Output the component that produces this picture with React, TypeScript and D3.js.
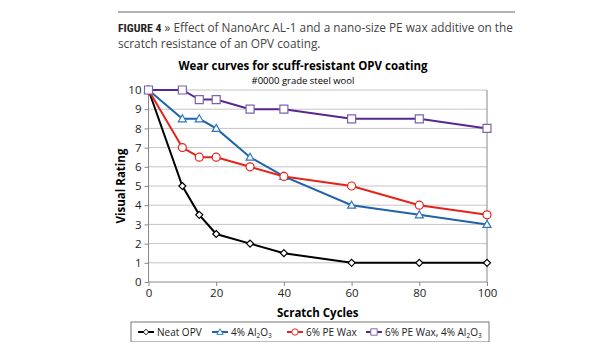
import * as d3 from 'd3';
import { useEffect, useRef } from 'react';

const cycles = [0, 10, 15, 20, 30, 40, 60, 80, 100];
const neatOpv = [10, 5, 3.5, 2.5, 2, 1.5, 1, 1, 1];
const alumina = [10, 8.5, 8.5, 8, 6.5, 5.5, 4, 3.5, 3];
const peWax = [10, 7, 6.5, 6.5, 6, 5.5, 5, 4, 3.5];
const peWaxAlumina = [10, 10, 9.5, 9.5, 9, 9, 8.5, 8.5, 8];
const xTicks = [0, 20, 40, 60, 80, 100];
const yTicks = [0, 1, 2, 3, 4, 5, 6, 7, 8, 9, 10];

const series = [
  { name: 'Neat OPV', values: neatOpv, color: '#000000', marker: '#000000', shape: 'diamond' },
  { name: '4% Al2O3', values: alumina, color: '#1f63a8', marker: '#2f78c0', shape: 'triangle' },
  { name: '6% PE Wax', values: peWax, color: '#e5231b', marker: '#e5231b', shape: 'circle' },
  { name: '6% PE Wax, 4% Al2O3', values: peWaxAlumina, color: '#5a2690', marker: '#7b62b3', shape: 'square' }
];

const W = 615;
const H = 350;
const FONT = '"Open Sans", sans-serif';

function App() {
  const ref = useRef<SVGSVGElement>(null);

  useEffect(() => {
    const svg = d3.select(ref.current);
    svg.selectAll('*').remove();

    const x = d3.scaleLinear().domain([0, 100]).range([148.5, 487]);
    const y = d3.scaleLinear().domain([0, 10]).range([282, 90]);

    svg.append('rect').attr('width', W).attr('height', H).attr('fill', '#fff');

    // caption
    svg.append('line')
      .attr('x1', 118).attr('x2', 515).attr('y1', 12).attr('y2', 12)
      .attr('stroke', '#666').attr('stroke-width', 1);
    const cap = svg.append('text')
      .attr('x', 118).attr('y', 32)
      .attr('font-family', FONT).attr('font-size', 11.8).attr('fill', '#444');
    cap.append('tspan')
      .attr('font-family', '"Liberation Sans Narrow", "Roboto Condensed", sans-serif')
      .attr('font-weight', 'bold').attr('fill', '#222').text('FIGURE 4');
    cap.append('tspan').text(' \u00bb Effect of NanoArc AL-1 and a nano-size PE wax additive on the');
    svg.append('text')
      .attr('x', 118).attr('y', 48)
      .attr('font-family', FONT).attr('font-size', 11.8).attr('fill', '#444')
      .text('scratch resistance of an OPV coating.');

    // title
    svg.append('text')
      .attr('x', 303).attr('y', 70).attr('text-anchor', 'middle')
      .attr('font-family', FONT).attr('font-size', 11.5).attr('font-weight', 'bold').attr('fill', '#000')
      .text('Wear curves for scuff-resistant OPV coating');
    svg.append('text')
      .attr('x', 303).attr('y', 84).attr('text-anchor', 'middle')
      .attr('font-family', FONT).attr('font-size', 9.5).attr('fill', '#000')
      .text('#0000 grade steel wool');

    // grid
    svg.append('g')
      .selectAll('line')
      .data(yTicks.filter((d) => d > 0))
      .enter()
      .append('line')
      .attr('x1', x(0)).attr('x2', x(100))
      .attr('y1', (d) => y(d)).attr('y2', (d) => y(d))
      .attr('stroke', '#c4c4c4').attr('stroke-width', 1);
    svg.append('line')
      .attr('x1', x(100)).attr('x2', x(100)).attr('y1', y(10)).attr('y2', y(0))
      .attr('stroke', '#888');

    // axes
    const yAxis = svg.append('g')
      .attr('transform', `translate(${x(0)},0)`)
      .call(d3.axisLeft(y).tickValues(yTicks).tickSize(4).tickPadding(3));
    const xAxis = svg.append('g')
      .attr('transform', `translate(0,${y(0)})`)
      .call(d3.axisBottom(x).tickValues(xTicks).tickSize(4).tickPadding(3));
    [yAxis, xAxis].forEach((g) => {
      g.selectAll('path, line').attr('stroke', '#888');
      g.select('.domain').attr('d', null);
      g.selectAll('text').attr('font-family', FONT).attr('font-size', 11.5).attr('fill', '#222');
    });
    svg.append('line')
      .attr('x1', x(0)).attr('x2', x(0)).attr('y1', y(10)).attr('y2', y(0)).attr('stroke', '#888');
    svg.append('line')
      .attr('x1', x(0)).attr('x2', x(100)).attr('y1', y(0)).attr('y2', y(0)).attr('stroke', '#888');

    svg.append('text')
      .attr('transform', `translate(125,${(y(0) + y(10)) / 2}) rotate(-90)`)
      .attr('text-anchor', 'middle')
      .attr('font-family', FONT).attr('font-size', 11.5).attr('font-weight', 'bold')
      .text('Visual Rating');
    svg.append('text')
      .attr('x', (x(0) + x(100)) / 2).attr('y', 317).attr('text-anchor', 'middle')
      .attr('font-family', FONT).attr('font-size', 11.5).attr('font-weight', 'bold')
      .text('Scratch Cycles');

    const markerPath = (shape: string) => {
      if (shape === 'diamond') return 'M0,-3.5L3.5,0L0,3.5L-3.5,0Z';
      if (shape === 'triangle') return 'M0,-4L4,3L-4,3Z';
      if (shape === 'square') return 'M-4,-4H4V4H-4Z';
      return d3.symbol().type(d3.symbolCircle).size(50)();
    };

    const line = d3.line<number>()
      .x((_, i) => x(cycles[i]))
      .y((d) => y(d));

    series.forEach((s) => {
      svg.append('path')
        .datum(s.values)
        .attr('fill', 'none')
        .attr('stroke', s.color)
        .attr('stroke-width', 2)
        .attr('d', line);
    });
    series.forEach((s) => {
      svg.append('g')
        .selectAll('path')
        .data(s.values)
        .enter()
        .append('path')
        .attr('transform', (d, i) => `translate(${x(cycles[i])},${y(d)})`)
        .attr('d', markerPath(s.shape))
        .attr('fill', '#fff')
        .attr('stroke', s.marker)
        .attr('stroke-width', 1.2);
    });

    // legend
    svg.append('rect')
      .attr('x', 131).attr('y', 322).attr('width', 358).attr('height', 20)
      .attr('fill', '#fff').attr('stroke', '#777');
    const legendX = [146, 220, 295, 374];
    series.forEach((s, i) => {
      const g = svg.append('g').attr('transform', `translate(${legendX[i]},332)`);
      g.append('line').attr('x1', -8).attr('x2', 8).attr('stroke', s.color).attr('stroke-width', 2);
      g.append('path')
        .attr('d', markerPath(s.shape))
        .attr('transform', 'scale(0.8)')
        .attr('fill', '#fff').attr('stroke', s.marker).attr('stroke-width', 1.2);
      const t = g.append('text')
        .attr('x', 11).attr('y', 3.5)
        .attr('font-family', FONT).attr('font-size', 10).attr('fill', '#222');
      if (s.name.includes('Al2O3')) {
        const prefix = s.name.replace('Al2O3', '');
        t.append('tspan').text(prefix + 'Al');
        t.append('tspan').attr('font-size', 6.5).attr('dy', 2).text('2');
        t.append('tspan').attr('dy', -2).text('O');
        t.append('tspan').attr('font-size', 6.5).attr('dy', 2).text('3');
      } else {
        t.text(s.name);
      }
    });
  }, []);

  return (
    <div style={{ margin: -8 }}>
      <svg ref={ref} width={W} height={H} style={{ display: 'block' }}></svg>
    </div>
  );
}

export default App;
